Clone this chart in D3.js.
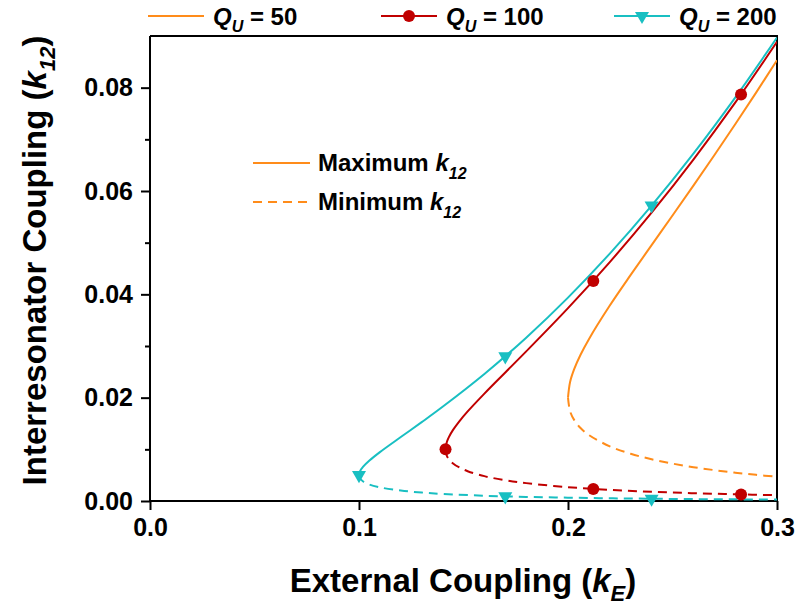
<!DOCTYPE html>
<html>
<head>
<meta charset="utf-8">
<script src="https://cdn.jsdelivr.net/npm/d3@7"></script>
<style>
  body { margin: 0; background: #fff; }
  svg text { font-family: "Liberation Sans", Arial, sans-serif; font-weight: bold; fill: #000; }
</style>
</head>
<body>
<div id="container"></div>
<script>
const width = 799,
  height = 605,
  margin = { top: 36, bottom: 104, left: 150, right: 22 };

/* DATA */
// Q_U = 50
const kE50 = [0.2, 0.201, 0.203, 0.206, 0.21, 0.22, 0.23, 0.24, 0.25, 0.26, 0.27, 0.28, 0.29, 0.30];
const kMax50 = [0.0200, 0.02304, 0.02556, 0.02830, 0.03133, 0.03783, 0.04376, 0.04952, 0.05526, 0.06105, 0.06692, 0.07291, 0.07904, 0.08531];
const kMin50 = [0.0200, 0.01736, 0.01565, 0.01413, 0.01277, 0.01058, 0.00914, 0.00808, 0.00724, 0.00655, 0.00598, 0.00549, 0.00506, 0.00469];
// Q_U = 100
const kE100 = [0.1414, 0.142, 0.143, 0.145, 0.148, 0.152, 0.16, 0.17, 0.18, 0.20, 0.22, 0.24, 0.26, 0.28, 0.30];
const kMax100 = [0.0100, 0.01137, 0.01236, 0.01376, 0.01542, 0.01734, 0.02079, 0.02488, 0.02895, 0.03732, 0.04624, 0.05581, 0.06609, 0.07710, 0.08888];
const kMin100 = [0.0100, 0.00880, 0.00809, 0.00727, 0.00649, 0.00577, 0.00481, 0.00402, 0.00346, 0.00268, 0.00216, 0.00179, 0.00151, 0.00130, 0.00113];
// Q_U = 200
const kE200 = [0.1, 0.1005, 0.102, 0.105, 0.11, 0.12, 0.13, 0.14, 0.16, 0.18, 0.20, 0.22, 0.24, 0.26, 0.28, 0.30];
const kMax200 = [0.0050, 0.00576, 0.00664, 0.00783, 0.00946, 0.01238, 0.01526, 0.01823, 0.02458, 0.03161, 0.03936, 0.04788, 0.05717, 0.06723, 0.07808, 0.08972];
const kMin200 = [0.0050, 0.00434, 0.00377, 0.00319, 0.00264, 0.00202, 0.00164, 0.00137, 0.00102, 0.00079, 0.00064, 0.00052, 0.00044, 0.00037, 0.00032, 0.00028];

// marker positions
const mkE100 = [0.1414, 0.2121, 0.2121, 0.2828, 0.2828];
const mk100 = [0.0100, 0.0426, 0.00234, 0.0787, 0.00127];
const mkE200 = [0.10, 0.17, 0.17, 0.24, 0.24];
const mk200 = [0.0050, 0.0280, 0.0009, 0.0572, 0.00044];

const xTicks = [0, 0.1, 0.2, 0.3];
const yTicks = [0, 0.02, 0.04, 0.06, 0.08];
const yMinor = [0.01, 0.03, 0.05, 0.07];

const orange = "#ff8c1a", red = "#c00000", cyan = "#19bfc2";

/* SCALES */
const xScale = d3.scaleLinear()
  .domain([0, 0.3])
  .range([margin.left, width - margin.right]);

const yScale = d3.scaleLinear()
  .domain([0, 0.09])
  .range([height - margin.bottom, margin.top]);

const svg = d3.select("#container")
  .append("svg")
  .attr("width", width)
  .attr("height", height);

svg.append("clipPath").attr("id", "plot")
  .append("rect")
  .attr("x", margin.left).attr("y", margin.top)
  .attr("width", width - margin.right - margin.left)
  .attr("height", height - margin.bottom - margin.top);

/* AXES */
const xAxis = d3.axisBottom(xScale).tickValues(xTicks).tickSize(9).tickPadding(8)
  .tickFormat(d3.format(".1f"));
const gx = svg.append("g")
  .attr("transform", `translate(0, ${height - margin.bottom})`)
  .call(xAxis);

const yAxis = d3.axisLeft(yScale).tickValues(yTicks).tickSize(9).tickPadding(8)
  .tickFormat(d3.format(".2f"));
const gy = svg.append("g")
  .attr("transform", `translate(${margin.left}, 0)`)
  .call(yAxis);

svg.append("g")
  .attr("transform", `translate(${margin.left}, 0)`)
  .call(d3.axisLeft(yScale).tickValues(yMinor).tickSize(5).tickFormat(""))
  .call(g => g.select(".domain").remove());

svg.selectAll(".domain, .tick line").attr("stroke", "#000").attr("stroke-width", 2);
svg.selectAll(".tick text").style("font-size", "25px").attr("fill", "#000");
gx.selectAll(".domain").attr("d", `M${margin.left},0H${width - margin.right}`);
gy.selectAll(".domain").attr("d", `M0,${yScale(0)}V${margin.top}`);

// frame top + right
svg.append("path")
  .attr("d", `M${margin.left},${margin.top}H${width - margin.right}V${height - margin.bottom}`)
  .attr("fill", "none").attr("stroke", "#000").attr("stroke-width", 2);

/* LINES */
const line = d3.line()
  .x(d => xScale(d[0]))
  .y(d => yScale(d[1]))
  .curve(d3.curveCatmullRom.alpha(0.5));

const series = [
  { kE: kE50, max: kMax50, min: kMin50, color: orange },
  { kE: kE100, max: kMax100, min: kMin100, color: red },
  { kE: kE200, max: kMax200, min: kMin200, color: cyan }
];

const plot = svg.append("g").attr("clip-path", "url(#plot)");
series.forEach(s => {
  plot.append("path")
    .attr("d", line(s.kE.map((k, i) => [k, s.max[i]])))
    .attr("fill", "none").attr("stroke", s.color).attr("stroke-width", 2);
  plot.append("path")
    .attr("d", line(s.kE.map((k, i) => [k, s.min[i]])))
    .attr("fill", "none").attr("stroke", s.color).attr("stroke-width", 2)
    .attr("stroke-dasharray", "9,6");
});

/* MARKERS */
const tri = d3.symbol().type(d3.symbolTriangle).size(85);

svg.selectAll(".m100")
  .data(mkE100.map((k, i) => [k, mk100[i]]))
  .join("circle")
  .attr("cx", d => xScale(d[0]))
  .attr("cy", d => yScale(d[1]))
  .attr("r", 6)
  .attr("fill", red);

svg.selectAll(".m200")
  .data(mkE200.map((k, i) => [k, mk200[i]]))
  .join("path")
  .attr("d", tri)
  .attr("transform", d => `translate(${xScale(d[0])},${yScale(d[1])}) rotate(180)`)
  .attr("fill", cyan);

/* TITLES */
const xt = svg.append("text")
  .attr("x", 463).attr("y", 592)
  .attr("text-anchor", "middle")
  .style("font-size", "33px");
xt.append("tspan").text("External Coupling (");
xt.append("tspan").attr("font-style", "italic").text("k");
xt.append("tspan").attr("font-style", "italic").attr("font-size", "22px").attr("dy", 9).text("E");
xt.append("tspan").attr("dy", -9).text(")");

const yt = svg.append("text")
  .attr("transform", `translate(46, ${yScale(0.045) - 8}) rotate(-90)`)
  .attr("text-anchor", "middle")
  .style("font-size", "33px");
yt.append("tspan").text("Interresonator Coupling (");
yt.append("tspan").attr("font-style", "italic").text("k");
yt.append("tspan").attr("font-style", "italic").attr("font-size", "22px").attr("dy", 9).text("12");
yt.append("tspan").attr("dy", -9).text(")");

/* TOP LEGEND */
const legend = [
  { label: "50", color: orange, x: 148, marker: null },
  { label: "100", color: red, x: 381, marker: "circle" },
  { label: "200", color: cyan, x: 614, marker: "tri" }
];
legend.forEach(l => {
  const g = svg.append("g").attr("transform", `translate(${l.x}, 16)`);
  g.append("line").attr("x1", 0).attr("x2", 56).attr("stroke", l.color).attr("stroke-width", 2);
  if (l.marker === "circle") g.append("circle").attr("cx", 28).attr("r", 6).attr("fill", l.color);
  if (l.marker === "tri") g.append("path").attr("d", tri).attr("transform", "translate(28,0) rotate(180)").attr("fill", l.color);
  const t = g.append("text").attr("x", 65).attr("y", 9).style("font-size", "24px");
  t.append("tspan").attr("font-style", "italic").text("Q");
  t.append("tspan").attr("font-style", "italic").attr("font-size", "16px").attr("dy", 7).text("U");
  t.append("tspan").attr("dy", -7).text(" = " + l.label);
});

/* INNER LEGEND */
const inner = [
  { label: "Maximum ", y: 163, dash: null },
  { label: "Minimum ", y: 202, dash: "9,6" }
];
inner.forEach(l => {
  svg.append("line")
    .attr("x1", 253).attr("x2", 310).attr("y1", l.y).attr("y2", l.y)
    .attr("stroke", orange).attr("stroke-width", 2)
    .attr("stroke-dasharray", l.dash);
  const t = svg.append("text").attr("x", 318).attr("y", l.y + 8).style("font-size", "24px");
  t.append("tspan").text(l.label);
  t.append("tspan").attr("font-style", "italic").text("k");
  t.append("tspan").attr("font-style", "italic").attr("font-size", "16px").attr("dy", 8).text("12");
});
</script>
</body>
</html>
